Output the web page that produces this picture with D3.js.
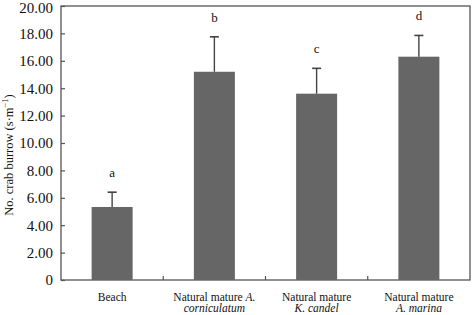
<!DOCTYPE html>
<html><head><meta charset="utf-8">
<script src="https://cdn.jsdelivr.net/npm/d3@7"></script>
<style>body{margin:0;background:#fff}svg{display:block}</style>
</head><body><svg id="c" width="472" height="315"></svg>
<script>
const categories = ["Beach", "A. corniculatum", "K. candel", "A. marina"];
const values = [5.33, 15.2, 13.6, 16.3];
const errors = [1.08, 2.55, 1.85, 1.55];
const letters = ["a", "b", "c", "d"];
const yTicks = [0, 2, 4, 6, 8, 10, 12, 14, 16, 18, 20];
const labelLines = [
  [[["Beach", false]]],
  [[["Natural mature ", false], ["A.", true]], [["corniculatum", true]]],
  [[["Natural mature", false]], [["K. candel", true]]],
  [[["Natural mature", false]], [["A. marina", true]]]
];

const svg = d3.select("#c");
const m = {l: 61, r: 470, t: 6, b: 280};
const font = "Liberation Serif";
const x = d3.scaleBand().domain(categories).range([m.l, m.r]);
const y = d3.scaleLinear().domain([0, 20]).range([m.b, m.t]);
const barW = 41;
const axisCol = "#555";

svg.append("rect").attr("x", m.l).attr("y", m.t).attr("width", m.r - m.l).attr("height", m.b - m.t)
  .attr("fill", "none").attr("stroke", axisCol).attr("stroke-width", 1.3);

const ya = svg.append("g").attr("transform", `translate(${m.l},0)`)
  .call(d3.axisLeft(y).tickValues(yTicks).tickSize(-4).tickPadding(8)
    .tickFormat(d => d === 0 ? "0" : d3.format(".2f")(d)));
ya.select(".domain").remove();
ya.attr("font-family", null).attr("font-size", null);
ya.selectAll("line").attr("stroke", axisCol).attr("stroke-width", 1.2);
ya.selectAll("text").style("font-family", font).style("font-size", "15px").attr("fill", "#111");
ya.selectAll(".tick").filter(d => d === 20).select("text").attr("dy", "0.40em");

const bounds = categories.slice(1).map(c => x(c));
svg.selectAll(".xt").data(bounds).enter().append("line")
  .attr("x1", d => d).attr("x2", d => d).attr("y1", m.b).attr("y2", m.b - 4)
  .attr("stroke", axisCol).attr("stroke-width", 1.2);

svg.selectAll(".bar").data(categories).enter().append("rect")
  .attr("x", c => x(c) + x.bandwidth() / 2 - barW / 2)
  .attr("y", (c, i) => y(values[i]))
  .attr("width", barW)
  .attr("height", (c, i) => y(0) - y(values[i]))
  .attr("fill", "#666666");

categories.forEach((c, i) => {
  const cx = x(c) + x.bandwidth() / 2;
  const top = y(values[i] + errors[i]);
  svg.append("line").attr("x1", cx).attr("x2", cx).attr("y1", y(values[i])).attr("y2", top)
    .attr("stroke", "#444").attr("stroke-width", 1.4);
  svg.append("line").attr("x1", cx - 4.5).attr("x2", cx + 4.5).attr("y1", top).attr("y2", top)
    .attr("stroke", "#444").attr("stroke-width", 1.6);
  svg.append("text").attr("x", cx).attr("y", top - 15).attr("text-anchor", "middle")
    .style("font-family", font).style("font-size", "13px").attr("fill", "#111").text(letters[i]);
});

categories.forEach((c, i) => {
  const cx = x(c) + x.bandwidth() / 2;
  labelLines[i].forEach((line, j) => {
    const t = svg.append("text").attr("x", cx).attr("y", 301 + j * 11).attr("text-anchor", "middle")
      .style("font-family", font).style("font-size", "11.5px").attr("fill", "#111");
    line.forEach(seg => t.append("tspan").style("font-style", seg[1] ? "italic" : "normal").text(seg[0]));
  });
});

const yt = svg.append("text").attr("transform", `translate(12.5,155) rotate(-90)`)
  .attr("text-anchor", "middle").style("font-family", font).style("font-size", "12.5px").attr("fill", "#111");
yt.append("tspan").text("No. crab burrow (s·m");
yt.append("tspan").attr("baseline-shift", "super").style("font-size", "8.5px").text("−1");
yt.append("tspan").text(")");
</script></body></html>
